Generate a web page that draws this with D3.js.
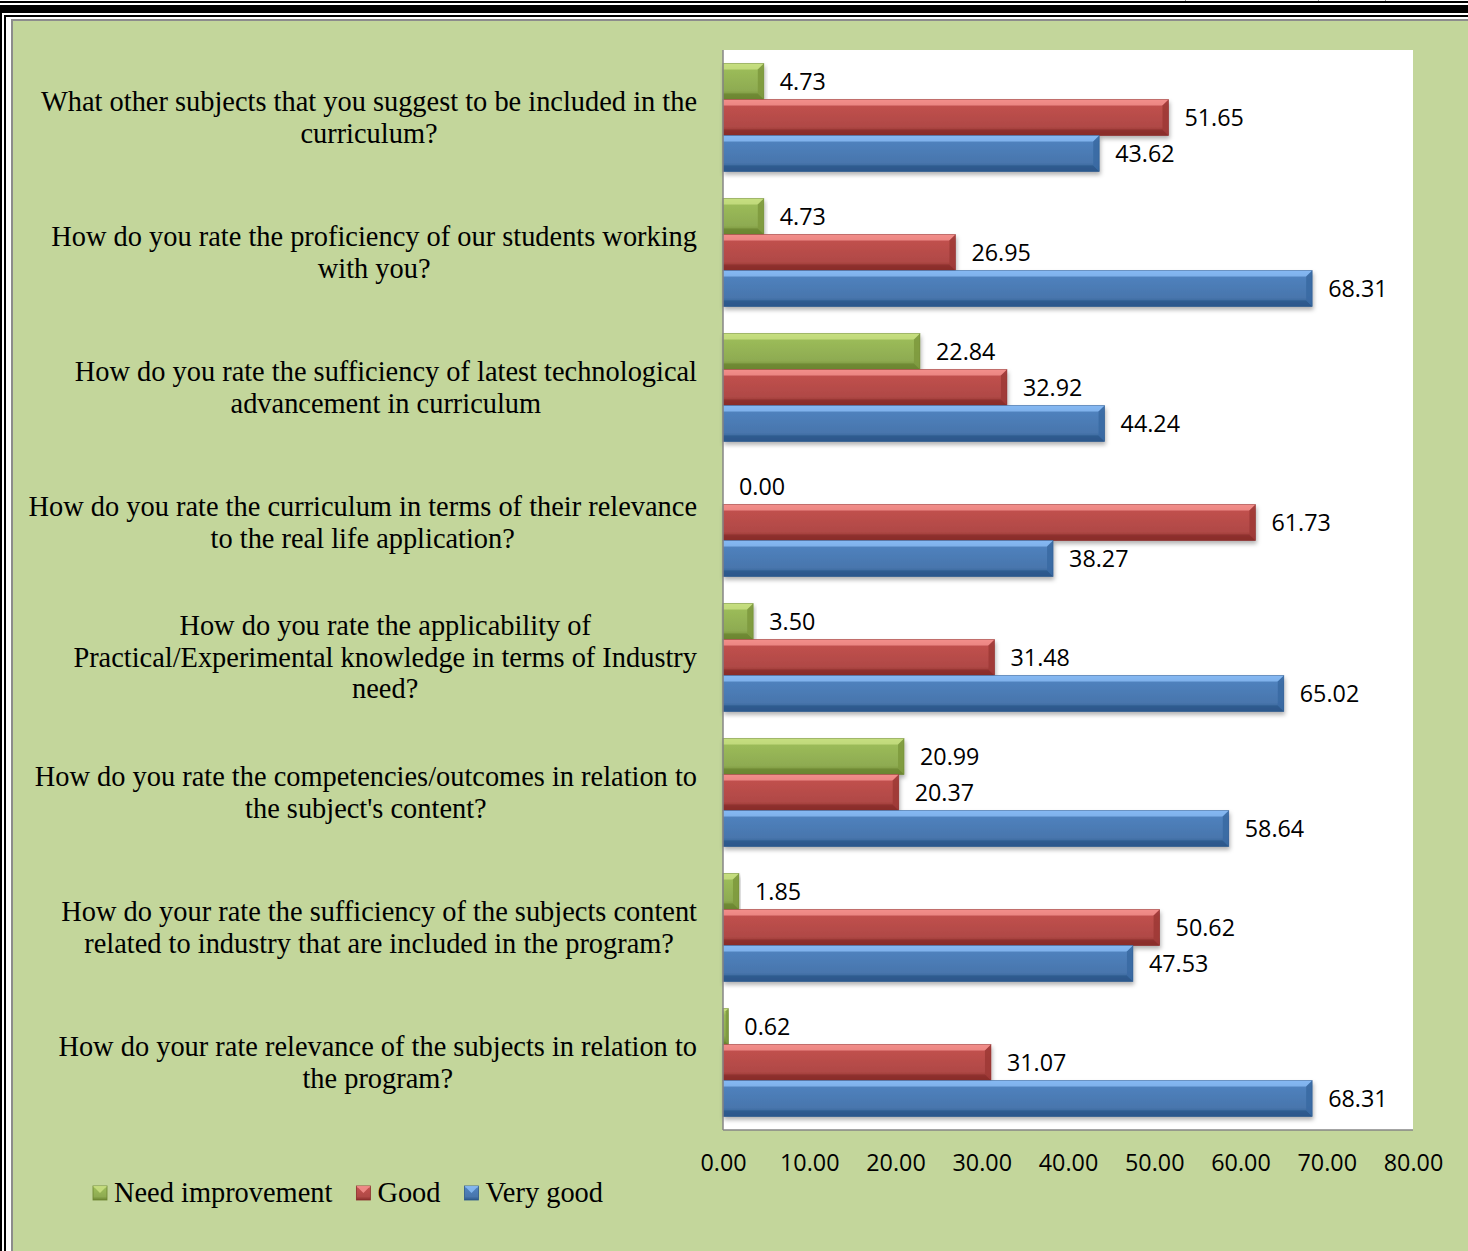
<!DOCTYPE html>
<html>
<head>
<meta charset="utf-8">
<script src="https://cdn.jsdelivr.net/npm/d3@7"></script>
<style>
  html, body { margin: 0; padding: 0; background: #ffffff; }
  svg { display: block; }
</style>
</head>
<body>
<svg id="chart" width="1468" height="1251"></svg>
<script>
// ---------------- DATA ----------------
const categories = [
  "What other subjects that you suggest to be included in the\ncurriculum?",
  "How do you rate the proficiency of our students working\nwith you?",
  "How do you rate the sufficiency of latest technological\nadvancement in curriculum",
  "How do you rate the curriculum in terms of their relevance\nto the real life application?",
  "How do you rate the applicability of\nPractical/Experimental knowledge in terms of Industry\nneed?",
  "How do you rate the competencies/outcomes in relation to\nthe subject's content?",
  "How do your rate the sufficiency of the subjects content\nrelated to industry that are included in the program?",
  "How do your rate relevance of the subjects in relation to\nthe program?"
];
const seriesNames = ["Need improvement", "Good", "Very good"];
const needImprovement = [4.73, 4.73, 22.84, 0.00, 3.50, 20.99, 1.85, 0.62];
const good            = [51.65, 26.95, 32.92, 61.73, 31.48, 20.37, 50.62, 31.07];
const veryGood        = [43.62, 68.31, 44.24, 38.27, 65.02, 58.64, 47.53, 68.31];
const xTicks = [0, 10, 20, 30, 40, 50, 60, 70, 80];

// ---------------- STYLE ----------------
const W = 1468, H = 1251;
const plot = { left: 723, right: 1413, top: 50, bottom: 1130 };
const bgGreen = "#C3D69B";
const palette = {
  "Need improvement": { base: "#9BBB59", light: "#C6DE80", dark: "#6B8631", side: "#7E9A3F" },
  "Good":             { base: "#C0504D", light: "#F28E8B", dark: "#8A2D2B", side: "#9E3A37" },
  "Very good":        { base: "#4F81BD", light: "#86B9F2", dark: "#2C578B", side: "#3A6AA3" }
};
const sansFont = "'Open Sans', 'Noto Sans', sans-serif";
const serifFont = "'Liberation Serif', 'DejaVu Serif', serif";
const serifSize = 28.4;

const svg = d3.select("#chart");
const defs = svg.append("defs");

// gradients
seriesNames.forEach((s, i) => {
  const c = palette[s];
  const g = defs.append("linearGradient").attr("id", "grad" + i)
    .attr("x1", 0).attr("y1", 0).attr("x2", 0).attr("y2", 1);
  g.append("stop").attr("offset", "0%").attr("stop-color", c.light);
  g.append("stop").attr("offset", "18%").attr("stop-color", c.base);
  g.append("stop").attr("offset", "75%").attr("stop-color", d3.color(c.base).darker(0.25));
  g.append("stop").attr("offset", "100%").attr("stop-color", c.dark);
});
const sh = defs.append("filter").attr("id", "shadow")
  .attr("x", "-5%").attr("y", "-20%").attr("width", "115%").attr("height", "160%");
sh.append("feDropShadow").attr("dx", 1).attr("dy", 3).attr("stdDeviation", 2)
  .attr("flood-color", "#000").attr("flood-opacity", 0.3);

// ---------------- PAGE BORDERS ----------------
svg.append("rect").attr("x", 0).attr("y", 0).attr("width", W).attr("height", H).attr("fill", "#ffffff");
svg.append("rect").attr("x", 13).attr("y", 21).attr("width", W - 13).attr("height", H - 21).attr("fill", bgGreen);
// grey chart border
svg.append("rect").attr("x", 11).attr("y", 19).attr("width", W - 11).attr("height", 2).attr("fill", "#8C8C8C");
svg.append("rect").attr("x", 11).attr("y", 19).attr("width", 2).attr("height", H - 19).attr("fill", "#8C8C8C");
// black page frame lines
svg.append("rect").attr("x", 0).attr("y", 1).attr("width", W).attr("height", 2).attr("fill", "#000");
svg.append("rect").attr("x", 0).attr("y", 5).attr("width", W).attr("height", 8).attr("fill", "#000");
svg.append("rect").attr("x", 4).attr("y", 15).attr("width", W - 4).attr("height", 2).attr("fill", "#000");
svg.append("rect").attr("x", 0).attr("y", 5).attr("width", 2).attr("height", H - 5).attr("fill", "#000");
svg.append("rect").attr("x", 4).attr("y", 15).attr("width", 2).attr("height", H - 15).attr("fill", "#000");
[1185, 1318, 1385].forEach(x => {
  svg.append("rect").attr("x", x).attr("y", 0).attr("width", 1).attr("height", 1).attr("fill", "#999");
});

// ---------------- SCALES ----------------
const x = d3.scaleLinear().domain([0, 80]).range([plot.left, plot.right]);
const y = d3.scaleBand().domain(categories).range([plot.top, plot.bottom])
  .paddingInner(0.2).paddingOuter(0.1);
const ySub = d3.scaleBand().domain(seriesNames).range([0, y.bandwidth()]).padding(0);

// plot area
svg.append("rect").attr("x", plot.left).attr("y", plot.top)
  .attr("width", plot.right - plot.left).attr("height", plot.bottom - plot.top)
  .attr("fill", "#ffffff");

// ---------------- BARS ----------------
const seriesValues = [needImprovement, good, veryGood];
const rows = [];
categories.forEach((c, ci) => {
  seriesNames.forEach((s, si) => rows.push({ cat: c, series: s, si, value: seriesValues[si][ci] }));
});

const barG = svg.append("g");
const bars = barG.selectAll("g.bar").data(rows).join("g").attr("class", "bar")
  .attr("filter", "url(#shadow)");

bars.each(function(d) {
  const g = d3.select(this);
  const x0 = x(0), x1 = x(d.value);
  const w = x1 - x0;
  if (w <= 0) return;
  const yt = y(d.cat) + ySub(d.series);
  const h = ySub.bandwidth();
  const c = palette[d.series];
  const b = Math.min(6, w / 2);
  g.append("rect").attr("x", x0).attr("y", yt).attr("width", w).attr("height", h)
    .attr("fill", `url(#grad${d.si})`);
  // top bevel
  g.append("path").attr("d", `M${x0},${yt}L${x1},${yt}L${x1 - b},${yt + b}L${x0},${yt + b}Z`)
    .attr("fill", c.light).attr("opacity", 0.85);
  // bottom bevel
  g.append("path").attr("d", `M${x0},${yt + h}L${x1},${yt + h}L${x1 - b},${yt + h - b}L${x0},${yt + h - b}Z`)
    .attr("fill", c.dark).attr("opacity", 0.8);
  // right bevel
  g.append("path").attr("d", `M${x1},${yt}L${x1},${yt + h}L${x1 - b},${yt + h - b}L${x1 - b},${yt + b}Z`)
    .attr("fill", c.side).attr("opacity", 0.9);
  g.append("rect").attr("x", x0).attr("y", yt).attr("width", w).attr("height", h)
    .attr("fill", "none").attr("stroke", c.dark).attr("stroke-width", 0.8).attr("stroke-opacity", 0.6);
});

// value labels
svg.append("g").selectAll("text").data(rows).join("text")
  .attr("x", d => x(d.value) + 16)
  .attr("y", d => y(d.cat) + ySub(d.series) + ySub.bandwidth() / 2)
  .attr("dy", "0.36em")
  .attr("font-family", sansFont).attr("font-size", 23.3).attr("fill", "#000")
  .text(d => d.value.toFixed(2));

// axis lines
svg.append("line").attr("x1", plot.left).attr("x2", plot.left).attr("y1", plot.top).attr("y2", plot.bottom)
  .attr("stroke", "#868686").attr("stroke-width", 1.5);
svg.append("line").attr("x1", plot.left).attr("x2", plot.right).attr("y1", plot.bottom).attr("y2", plot.bottom)
  .attr("stroke", "#868686").attr("stroke-width", 1.5);

// x axis tick labels
const xAxis = d3.axisBottom(x).tickValues(xTicks).tickFormat(d => d.toFixed(2)).tickSize(0).tickPadding(0);
const xAxisG = svg.append("g").attr("transform", `translate(0, 1163)`).call(xAxis);
xAxisG.select(".domain").remove();
xAxisG.selectAll("text").attr("dy", "0.36em").attr("y", 0)
  .attr("font-family", sansFont).attr("font-size", 23.3).attr("fill", "#000");

// category labels
const labelRight = 697, lineH = 31.5;
const catG = svg.append("g");
categories.forEach(c => {
  const lines = c.split("\n");
  const cy = y(c) + y.bandwidth() / 2;
  const t = catG.append("text").attr("font-family", serifFont).attr("font-size", serifSize)
    .attr("fill", "#000").attr("text-anchor", "middle");
  lines.forEach((ln, i) => {
    t.append("tspan").attr("x", 0)
      .attr("y", cy + (i - (lines.length - 1) / 2) * lineH)
      .attr("dy", "0.33em").text(ln);
  });
  let maxW = 0;
  t.selectAll("tspan").each(function() { maxW = Math.max(maxW, this.getComputedTextLength()); });
  t.selectAll("tspan").attr("x", labelRight - maxW / 2);
});

// ---------------- LEGEND ----------------
const legend = svg.append("g");
let lx = 93;
const ly = 1193;
seriesNames.forEach((s, si) => {
  const c = palette[s];
  const gg = legend.append("g");
  gg.append("rect").attr("x", lx).attr("y", ly - 7).attr("width", 14).attr("height", 14)
    .attr("fill", `url(#grad${si})`).attr("stroke", c.dark).attr("stroke-width", 0.8);
  gg.append("path").attr("d", `M${lx},${ly - 7}L${lx + 14},${ly - 7}L${lx + 7},${ly}Z`)
    .attr("fill", c.light).attr("opacity", 0.9);
  const t = gg.append("text").attr("x", lx + 21).attr("y", ly).attr("dy", "0.33em")
    .attr("font-family", serifFont).attr("font-size", serifSize).attr("fill", "#000").text(s);
  lx = lx + 21 + t.node().getComputedTextLength() + 24;
});
</script>
</body>
</html>
